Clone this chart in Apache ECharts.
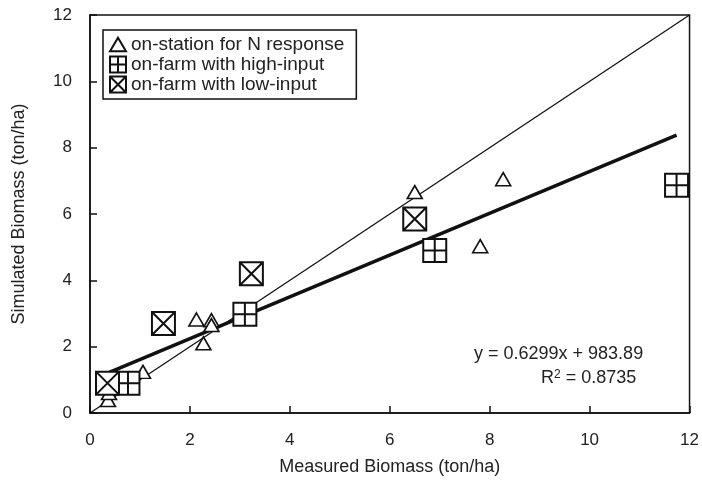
<!DOCTYPE html>
<html><head><meta charset="utf-8">
<script src="https://cdn.jsdelivr.net/npm/echarts@6/dist/echarts.min.js"></script>
<style>html,body{margin:0;padding:0;background:#fff}#c{width:702px;height:482px}</style>
</head><body><div id="c"></div>
<script>
const onStation = [[0.36,0.39],[0.38,0.6],[1.06,1.24],[2.27,2.1],[2.13,2.82],[2.43,2.8],[2.43,2.65],[6.5,6.66],[8.27,7.05],[7.81,5.03]];
const highInput = [[0.76,0.9],[3.1,2.98],[6.9,4.9],[11.74,6.87]];
const lowInput = [[0.35,0.9],[1.47,2.7],[3.23,4.2],[6.5,5.85]];
const oneToOne = [[0,12],[0,12]]; // x range, y range
const regSlope = 0.6299, regIntercept = 0.98389, regX = [0.35, 11.74];
const xTicks = [0,2,4,6,8,10,12];
const eqText = 'y = 0.6299x + 983.89';
const r2Text = 'R{sup|2} = 0.8735';

const FONT = 'Liberation Sans, Arial, Helvetica, sans-serif';
const plusSq = 'path://M0,0 H20 V20 H0 Z M10,0 V20 M0,10 H20';
const crossSq = 'path://M0,0 H20 V20 H0 Z M0,0 L20,20 M20,0 L0,20';
const tri = 'path://M10,0 L20,17 L0,17 Z';

const chart = echarts.init(document.getElementById('c'));
chart.setOption({
  animation:false,
  textStyle:{fontFamily:FONT},
  grid:{left:90,right:10,top:15,bottom:69,show:true,borderColor:'#111',borderWidth:1.5,backgroundColor:'transparent'},
  xAxis:{type:'value',min:xTicks[0],max:xTicks[xTicks.length-1],interval:2,
    name:'Measured Biomass (ton/ha)',nameLocation:'middle',nameGap:45,
    nameTextStyle:{fontSize:18,color:'#222',fontFamily:FONT},
    axisLine:{lineStyle:{color:'#111',width:1.5}},
    axisTick:{inside:true,length:7,lineStyle:{color:'#111',width:1.5}},
    axisLabel:{fontSize:17,color:'#222',margin:19,fontFamily:FONT},splitLine:{show:false}},
  yAxis:{type:'value',min:0,max:12,interval:2,
    name:'Simulated Biomass (ton/ha)',nameLocation:'middle',nameGap:62,
    nameTextStyle:{fontSize:18,color:'#222',fontFamily:FONT},
    axisLine:{lineStyle:{color:'#111',width:1.5}},
    axisTick:{inside:true,length:7,lineStyle:{color:'#111',width:1.5}},
    axisLabel:{fontSize:17,color:'#222',margin:18,fontFamily:FONT},splitLine:{show:false}},
  legend:{orient:'vertical',left:103,top:30,itemGap:1,itemWidth:16,itemHeight:16,
    borderColor:'#111',borderWidth:1.5,padding:[5,12,5,6],
    textStyle:{fontSize:19,color:'#222',fontFamily:FONT},
    data:[{name:'on-station for N response',icon:tri},
          {name:'on-farm with high-input',icon:plusSq},
          {name:'on-farm with low-input',icon:crossSq}]},
  graphic:[
    {type:'text',left:474,top:345,style:{text:eqText,font:'18px '+FONT,fill:'#222'}},
    {type:'text',left:541,top:369,style:{text:r2Text,font:'18px '+FONT,fill:'#222',
      rich:{sup:{fontSize:12,verticalAlign:'top',lineHeight:12,padding:[0,0,8,0],fill:'#222',fontFamily:FONT}}}}
  ],
  series:[
    {type:'line',name:'1:1',data:[[oneToOne[0][0],oneToOne[1][0]],[oneToOne[0][1],oneToOne[1][1]]],showSymbol:false,lineStyle:{color:'#111',width:1.3},z:1,silent:true},
    {type:'line',name:'reg',data:regX.map(x=>[x,regSlope*x+regIntercept]),showSymbol:false,lineStyle:{color:'#111',width:3.5},z:1,silent:true},
    {type:'scatter',name:'on-station for N response',data:onStation,symbol:tri,symbolSize:[15,13],
      itemStyle:{color:'#fff',borderColor:'#111',borderWidth:1.6,opacity:1},z:3},
    {type:'scatter',name:'on-farm with high-input',data:highInput,symbol:plusSq,symbolSize:23,
      itemStyle:{color:'#fff',borderColor:'#111',borderWidth:2,opacity:1},z:3},
    {type:'scatter',name:'on-farm with low-input',data:lowInput,symbol:crossSq,symbolSize:23,
      itemStyle:{color:'#fff',borderColor:'#111',borderWidth:2,opacity:1},z:3}
  ]
});
</script></body></html>
